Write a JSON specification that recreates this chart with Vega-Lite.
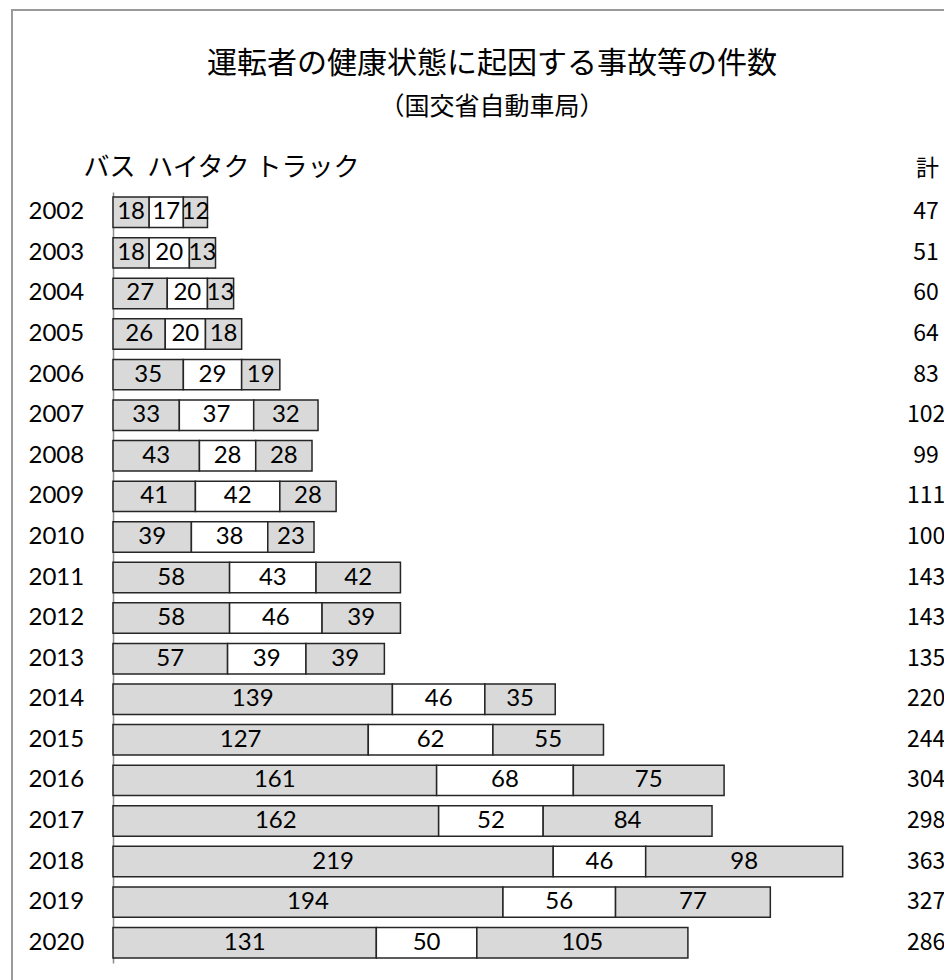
{
  "$schema": "https://vega.github.io/schema/vega-lite/v6.json",
  "width": 952,
  "height": 990,
  "autosize": {"type": "none"},
  "padding": {"left": 12, "top": 10, "right": -20, "bottom": -20},
  "background": "white",
  "config": {
    "view": {"stroke": "#9a9a9a", "strokeWidth": 2},
    "axis": {"grid": false}
  },
  "title": {
    "text": "運転者の健康状態に起因する事故等の件数",
    "subtitle": "（国交省自動車局）",
    "anchor": "middle",
    "frame": "group",
    "offset": -110,
    "dx": 4,
    "font": "Noto Sans CJK JP",
    "fontSize": 30,
    "fontWeight": "normal",
    "color": "black",
    "subtitleFont": "Noto Sans CJK JP",
    "subtitleFontSize": 25,
    "subtitleColor": "black",
    "subtitlePadding": 16
  },
  "datasets": {
    "seg": [
      {"year": "2002", "kind": "バス", "count": 18}, {"year": "2002", "kind": "ハイタク", "count": 17}, {"year": "2002", "kind": "トラック", "count": 12},
      {"year": "2003", "kind": "バス", "count": 18}, {"year": "2003", "kind": "ハイタク", "count": 20}, {"year": "2003", "kind": "トラック", "count": 13},
      {"year": "2004", "kind": "バス", "count": 27}, {"year": "2004", "kind": "ハイタク", "count": 20}, {"year": "2004", "kind": "トラック", "count": 13},
      {"year": "2005", "kind": "バス", "count": 26}, {"year": "2005", "kind": "ハイタク", "count": 20}, {"year": "2005", "kind": "トラック", "count": 18},
      {"year": "2006", "kind": "バス", "count": 35}, {"year": "2006", "kind": "ハイタク", "count": 29}, {"year": "2006", "kind": "トラック", "count": 19},
      {"year": "2007", "kind": "バス", "count": 33}, {"year": "2007", "kind": "ハイタク", "count": 37}, {"year": "2007", "kind": "トラック", "count": 32},
      {"year": "2008", "kind": "バス", "count": 43}, {"year": "2008", "kind": "ハイタク", "count": 28}, {"year": "2008", "kind": "トラック", "count": 28},
      {"year": "2009", "kind": "バス", "count": 41}, {"year": "2009", "kind": "ハイタク", "count": 42}, {"year": "2009", "kind": "トラック", "count": 28},
      {"year": "2010", "kind": "バス", "count": 39}, {"year": "2010", "kind": "ハイタク", "count": 38}, {"year": "2010", "kind": "トラック", "count": 23},
      {"year": "2011", "kind": "バス", "count": 58}, {"year": "2011", "kind": "ハイタク", "count": 43}, {"year": "2011", "kind": "トラック", "count": 42},
      {"year": "2012", "kind": "バス", "count": 58}, {"year": "2012", "kind": "ハイタク", "count": 46}, {"year": "2012", "kind": "トラック", "count": 39},
      {"year": "2013", "kind": "バス", "count": 57}, {"year": "2013", "kind": "ハイタク", "count": 39}, {"year": "2013", "kind": "トラック", "count": 39},
      {"year": "2014", "kind": "バス", "count": 139}, {"year": "2014", "kind": "ハイタク", "count": 46}, {"year": "2014", "kind": "トラック", "count": 35},
      {"year": "2015", "kind": "バス", "count": 127}, {"year": "2015", "kind": "ハイタク", "count": 62}, {"year": "2015", "kind": "トラック", "count": 55},
      {"year": "2016", "kind": "バス", "count": 161}, {"year": "2016", "kind": "ハイタク", "count": 68}, {"year": "2016", "kind": "トラック", "count": 75},
      {"year": "2017", "kind": "バス", "count": 162}, {"year": "2017", "kind": "ハイタク", "count": 52}, {"year": "2017", "kind": "トラック", "count": 84},
      {"year": "2018", "kind": "バス", "count": 219}, {"year": "2018", "kind": "ハイタク", "count": 46}, {"year": "2018", "kind": "トラック", "count": 98},
      {"year": "2019", "kind": "バス", "count": 194}, {"year": "2019", "kind": "ハイタク", "count": 56}, {"year": "2019", "kind": "トラック", "count": 77},
      {"year": "2020", "kind": "バス", "count": 131}, {"year": "2020", "kind": "ハイタク", "count": 50}, {"year": "2020", "kind": "トラック", "count": 105}
    ],
    "tot": [
      {"year": "2002", "total": 47}, {"year": "2003", "total": 51}, {"year": "2004", "total": 60},
      {"year": "2005", "total": 64}, {"year": "2006", "total": 83}, {"year": "2007", "total": 102},
      {"year": "2008", "total": 99}, {"year": "2009", "total": 111}, {"year": "2010", "total": 100},
      {"year": "2011", "total": 143}, {"year": "2012", "total": 143}, {"year": "2013", "total": 135},
      {"year": "2014", "total": 220}, {"year": "2015", "total": 244}, {"year": "2016", "total": 304},
      {"year": "2017", "total": 298}, {"year": "2018", "total": 363}, {"year": "2019", "total": 327},
      {"year": "2020", "total": 286}
    ]
  },
  "encoding": {
    "y": {
      "field": "year",
      "type": "nominal",
      "sort": "ascending",
      "scale": {"range": [182, 953], "paddingInner": 0.25, "paddingOuter": 0.125},
      "axis": {
        "title": "バス\u00a0\u00a0ハイタク\u00a0トラック",
        "titleAngle": 0,
        "titleAlign": "left",
        "titleBaseline": "middle",
        "titleX": -30,
        "titleY": 157,
        "titleFont": "Noto Sans CJK JP",
        "titleFontSize": 26,
        "titleFontWeight": "normal",
        "titleColor": "black",
        "labelFont": "Lato",
        "labelFontSize": 24,
        "labelColor": "black",
        "labelAlign": "left",
        "labelBaseline": "middle",
        "labelPadding": 85,
        "ticks": false,
        "domainColor": "#8c8c8c",
        "domainWidth": 1.5,
        "offset": -101
      }
    }
  },
  "layer": [
    {
      "data": {"name": "seg"},
      "mark": {"type": "bar", "stroke": "#262626", "strokeWidth": 1.5},
      "encoding": {
        "x": {
          "field": "count",
          "type": "quantitative",
          "stack": "zero",
          "scale": {"domain": [0, 413.4], "range": [101, 932], "nice": false, "zero": true},
          "axis": {
            "orient": "top",
            "title": "計",
            "labels": false,
            "ticks": false,
            "domain": false,
            "grid": false,
            "titleX": 915,
            "titleY": 158,
            "titleAlign": "center",
            "titleBaseline": "middle",
            "titleFont": "Noto Sans CJK JP",
            "titleFontSize": 23,
            "titleFontWeight": "normal",
            "titleColor": "black"
          }
        },
        "order": {"field": "kind", "sort": "descending"},
        "fill": {
          "field": "kind",
          "type": "nominal",
          "scale": {"domain": ["バス", "ハイタク", "トラック"], "range": ["#d9d9d9", "#ffffff", "#d9d9d9"]},
          "legend": null
        }
      }
    },
    {
      "data": {"name": "seg"},
      "mark": {"type": "text", "font": "Lato", "fontSize": 24, "color": "black", "baseline": "middle", "align": "center"},
      "encoding": {
        "x": {"field": "count", "type": "quantitative", "stack": "zero", "bandPosition": 0.5},
        "order": {"field": "kind", "sort": "descending"},
        "detail": {"field": "kind"},
        "text": {"field": "count", "type": "quantitative"}
      }
    },
    {
      "data": {"name": "tot"},
      "mark": {"type": "text", "font": "Noto Sans CJK JP", "fontSize": 23, "color": "black", "baseline": "middle", "align": "center"},
      "encoding": {
        "x": {"datum": 404.5, "type": "quantitative"},
        "text": {"field": "total", "type": "quantitative"}
      }
    }
  ]
}
